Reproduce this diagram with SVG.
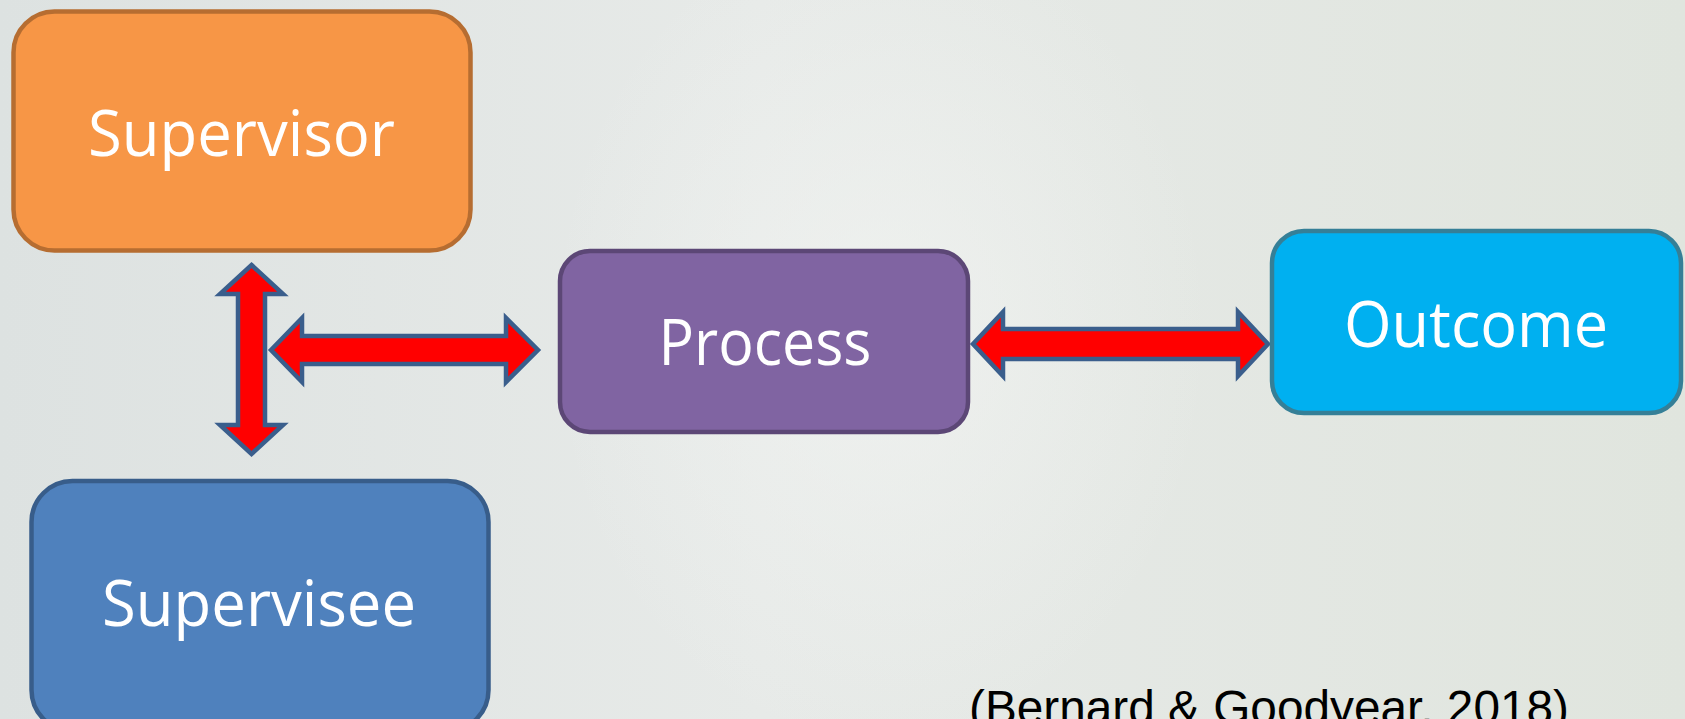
<svg xmlns="http://www.w3.org/2000/svg" width="1685" height="719" viewBox="0 0 1685 719">
  <defs>
    <linearGradient id="bg" x1="0" y1="0" x2="1" y2="0">
      <stop offset="0" stop-color="#dde2e1"/>
      <stop offset="0.45" stop-color="#e7eae8"/>
      <stop offset="1" stop-color="#e0e5de"/>
    </linearGradient>
    <radialGradient id="glow" cx="0.5" cy="0.5" r="0.5">
      <stop offset="0" stop-color="#f2f4f2" stop-opacity="0.7"/>
      <stop offset="1" stop-color="#f2f4f2" stop-opacity="0"/>
    </radialGradient>
    <style>
      .box { stroke-width: 4.5; }
      .label { font-family: "Open Sans", "Noto Sans", "DejaVu Sans", sans-serif; font-size: 64px; fill: #ffffff; text-anchor: middle; }
      .arrow { fill: #ff0000; stroke: #3a5e8c; stroke-width: 4.5; stroke-linejoin: miter; stroke-miterlimit: 10; }
      .cite { font-family: "Liberation Sans", Arial, sans-serif; font-size: 48px; fill: #000000; }
    </style>
  </defs>

  <rect x="0" y="0" width="1685" height="719" fill="url(#bg)"/>
  <ellipse cx="880" cy="330" rx="330" ry="420" fill="url(#glow)"/>

  <g id="connectors">
    <path class="arrow" d="M251.5,265 L283,294 L265,294 L265,425 L283,425 L251.5,454 L220,425 L238,425 L238,294 L220,294 Z"/>
    <path class="arrow" d="M271,350 L302,318 L302,336 L506,336 L506,318 L538,350 L506,382 L506,364 L302,364 L302,382 Z"/>
    <path class="arrow" d="M973,344 L1003,312 L1003,329 L1238,329 L1238,312 L1268,344 L1238,376 L1238,359 L1003,359 L1003,376 Z"/>
  </g>

  <g id="supervisor">
    <rect class="box" x="13.5" y="11.5" width="457" height="239" rx="41" ry="41" fill="#f79646" stroke="#b66d31"/>
    <text class="label" x="241.5" y="156" textLength="307" lengthAdjust="spacingAndGlyphs">Supervisor</text>
  </g>

  <g id="process">
    <rect class="box" x="560" y="251" width="408" height="181" rx="30" ry="30" fill="#8064a2" stroke="#5c4776"/>
    <text class="label" x="765" y="365" textLength="213" lengthAdjust="spacingAndGlyphs">Process</text>
  </g>

  <g id="outcome">
    <rect class="box" x="1272" y="231" width="409" height="182" rx="32" ry="32" fill="#00b0f0" stroke="#357f97"/>
    <text class="label" x="1476" y="347" textLength="264" lengthAdjust="spacingAndGlyphs">Outcome</text>
  </g>

  <g id="supervisee">
    <rect class="box" x="31.5" y="481" width="457" height="250" rx="41" ry="41" fill="#4f81bd" stroke="#385d8a"/>
    <text class="label" x="259" y="626" textLength="314" lengthAdjust="spacingAndGlyphs">Supervisee</text>
  </g>

  <g id="citation">
    <text class="cite" x="969" y="724" textLength="600" lengthAdjust="spacingAndGlyphs">(Bernard &amp; Goodyear, 2018)</text>
  </g>
</svg>
